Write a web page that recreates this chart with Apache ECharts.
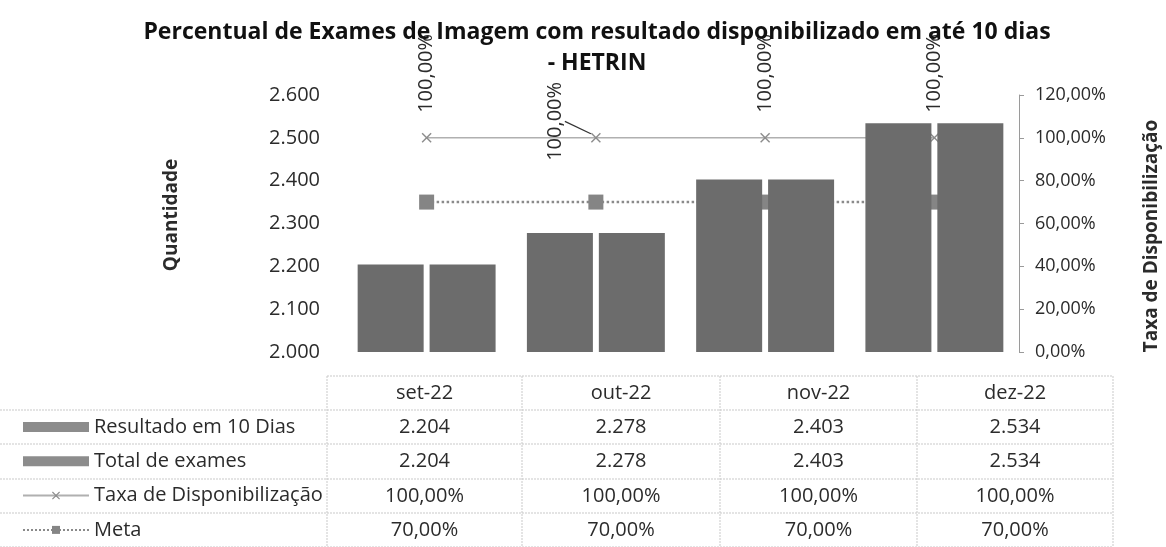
<!DOCTYPE html>
<html>
<head>
<meta charset="utf-8">
<title>Percentual de Exames de Imagem - HETRIN</title>
<script src="https://cdn.jsdelivr.net/npm/echarts@6/dist/echarts.min.js"></script>
<style>
  html, body { margin: 0; padding: 0; background: #fff; }
  #chart { width: 1166px; height: 547px; }
</style>
</head>
<body>
<div id="chart"></div>
<script>
// dados
const meses = ["set-22", "out-22", "nov-22", "dez-22"];
const resultado10Dias = [2204, 2278, 2403, 2534];
const totalExames = [2204, 2278, 2403, 2534];
const taxaDisponib = [1, 1, 1, 1];
const meta = [0.7, 0.7, 0.7, 0.7];

const FONT = "Open Sans";
const TXT = "#2b2b2b";

// 2204 -> "2.204"
function fmtMil(n) {
  return String(n).replace(/\B(?=(\d{3})+(?!\d))/g, ".");
}
// 0.7 -> "70,00%"
function fmtPct(v) {
  return (v * 100).toFixed(2).replace(".", ",") + "%";
}

const myChart = echarts.init(document.getElementById("chart"));

// tabela de dados embaixo do gráfico
const colX = [327, 522, 720, 917, 1113];
const rowLines = [376, 410, 444, 479, 513, 547];
const rowText = [393, 427, 461, 496, 530];
const linhas = [
  resultado10Dias.map(fmtMil),
  totalExames.map(fmtMil),
  taxaDisponib.map(fmtPct),
  meta.map(fmtPct)
];
const tabela = [];
const lineStyle = { stroke: "#c9c9c9", lineWidth: 1, lineDash: [2, 1] };
rowLines.forEach((y, i) => {
  tabela.push({
    type: "line",
    silent: true,
    shape: { x1: i === 0 ? colX[0] : 0, y1: y, x2: colX[colX.length - 1], y2: y },
    style: lineStyle
  });
});
colX.forEach(x => {
  tabela.push({
    type: "line",
    silent: true,
    shape: { x1: x, y1: rowLines[0], x2: x, y2: rowLines[rowLines.length - 1] },
    style: lineStyle
  });
});
meses.forEach((m, c) => {
  const cx = (colX[c] + colX[c + 1]) / 2;
  tabela.push({
    type: "text", silent: true, x: cx, y: rowText[0],
    style: { text: m, fill: TXT, font: "20px '" + FONT + "'", align: "center", verticalAlign: "middle" }
  });
  linhas.forEach((ln, r) => {
    tabela.push({
      type: "text", silent: true, x: cx, y: rowText[r + 1],
      style: { text: ln[c], fill: TXT, font: "20px '" + FONT + "'", align: "center", verticalAlign: "middle" }
    });
  });
});

// títulos dos eixos
tabela.push({
  type: "text", silent: true, x: 172, y: 215, rotation: Math.PI / 2,
  style: { text: "Quantidade", fill: TXT, font: "bold 19px '" + FONT + "'", align: "center", verticalAlign: "middle" }
});
tabela.push({
  type: "text", silent: true, x: 1152, y: 236, rotation: Math.PI / 2,
  style: { text: "Taxa de Disponibilização", fill: TXT, font: "bold 19px '" + FONT + "'", align: "center", verticalAlign: "middle" }
});

// símbolo "x" da série de taxa
const xis = "path://M0,1L1,0L5,4L9,0L10,1L6,5L10,9L9,10L5,6L1,10L0,9L4,5Z";

const option = {
  animation: false,
  textStyle: { fontFamily: FONT },
  title: {
    text: "Percentual de Exames de Imagem com resultado disponibilizado em até 10 dias\n- HETRIN",
    left: 592,
    top: 12,
    textAlign: "center",
    textStyle: { fontFamily: FONT, fontSize: 23, fontWeight: "bold", color: "#111", lineHeight: 31 }
  },
  legend: {
    orient: "vertical",
    left: 22,
    top: 416,
    padding: 0,
    itemGap: 12.3,
    itemWidth: 66,
    itemHeight: 10,
    textStyle: { fontFamily: FONT, fontSize: 20, color: TXT, lineHeight: 22 },
    data: [
      { name: "Resultado em 10 Dias", icon: "rect", itemStyle: { color: "#8c8c8c" } },
      { name: "Total de exames", icon: "rect", itemStyle: { color: "#8c8c8c" } },
      "Taxa de Disponibilização",
      "Meta"
    ]
  },
  grid: { left: 342, right: 147, top: 95, bottom: 195, containLabel: false },
  xAxis: {
    type: "category",
    data: meses,
    axisLine: { show: false },
    axisTick: { show: false },
    axisLabel: { show: false }
  },
  yAxis: [
    {
      type: "value",
      min: 2000,
      max: 2600,
      interval: 100,
      axisLine: { show: false },
      axisTick: { show: false },
      splitLine: { show: false },
      axisLabel: { fontSize: 20, color: TXT, margin: 22, formatter: fmtMil }
    },
    {
      type: "value",
      position: "right",
      min: 0,
      max: 1.2,
      interval: 0.2,
      axisLine: { show: true, lineStyle: { color: "#9a9a9a", width: 1 } },
      axisTick: { show: true, length: 5, lineStyle: { color: "#9a9a9a" } },
      splitLine: { show: false },
      axisLabel: { fontSize: 18, color: TXT, margin: 16, formatter: fmtPct }
    }
  ],
  series: [
    {
      name: "Resultado em 10 Dias",
      type: "bar",
      data: resultado10Dias,
      barWidth: 66,
      barGap: "9%",
      z: 3,
      itemStyle: { color: "#6c6c6c" }
    },
    {
      name: "Total de exames",
      type: "bar",
      data: totalExames,
      barWidth: 66,
      z: 3,
      itemStyle: { color: "#6c6c6c" }
    },
    {
      name: "Taxa de Disponibilização",
      type: "line",
      yAxisIndex: 1,
      z: 2,
      data: taxaDisponib.map((v, i) => i === 1 ? { value: v, labelLine: { show: true } } : v),
      symbol: xis,
      symbolSize: 10,
      lineStyle: { color: "#b0b0b0", width: 1.5 },
      itemStyle: { color: "#8c8c8c" },
      label: {
        show: true,
        position: "top",
        distance: 20,
        rotate: 90,
        align: "left",
        verticalAlign: "middle",
        fontSize: 20,
        color: TXT,
        formatter: p => fmtPct(p.value)
      },
      labelLine: { show: false, lineStyle: { color: "#333", width: 1.2 } },
      labelLayout: function (params) {
        // rótulo de out-22 deslocado (eixos do rótulo girados 90°)
        if (params.dataIndex === 1) {
          return { dx: -48, dy: -41 };
        }
      }
    },
    {
      name: "Meta",
      type: "line",
      yAxisIndex: 1,
      z: 1,
      data: meta,
      symbol: "rect",
      symbolSize: 15,
      lineStyle: { color: "#8a8a8a", width: 2.5, type: "dotted" },
      itemStyle: { color: "#858585" }
    }
  ],
  graphic: tabela
};

myChart.clear();
myChart.setOption(option);
</script>
</body>
</html>
